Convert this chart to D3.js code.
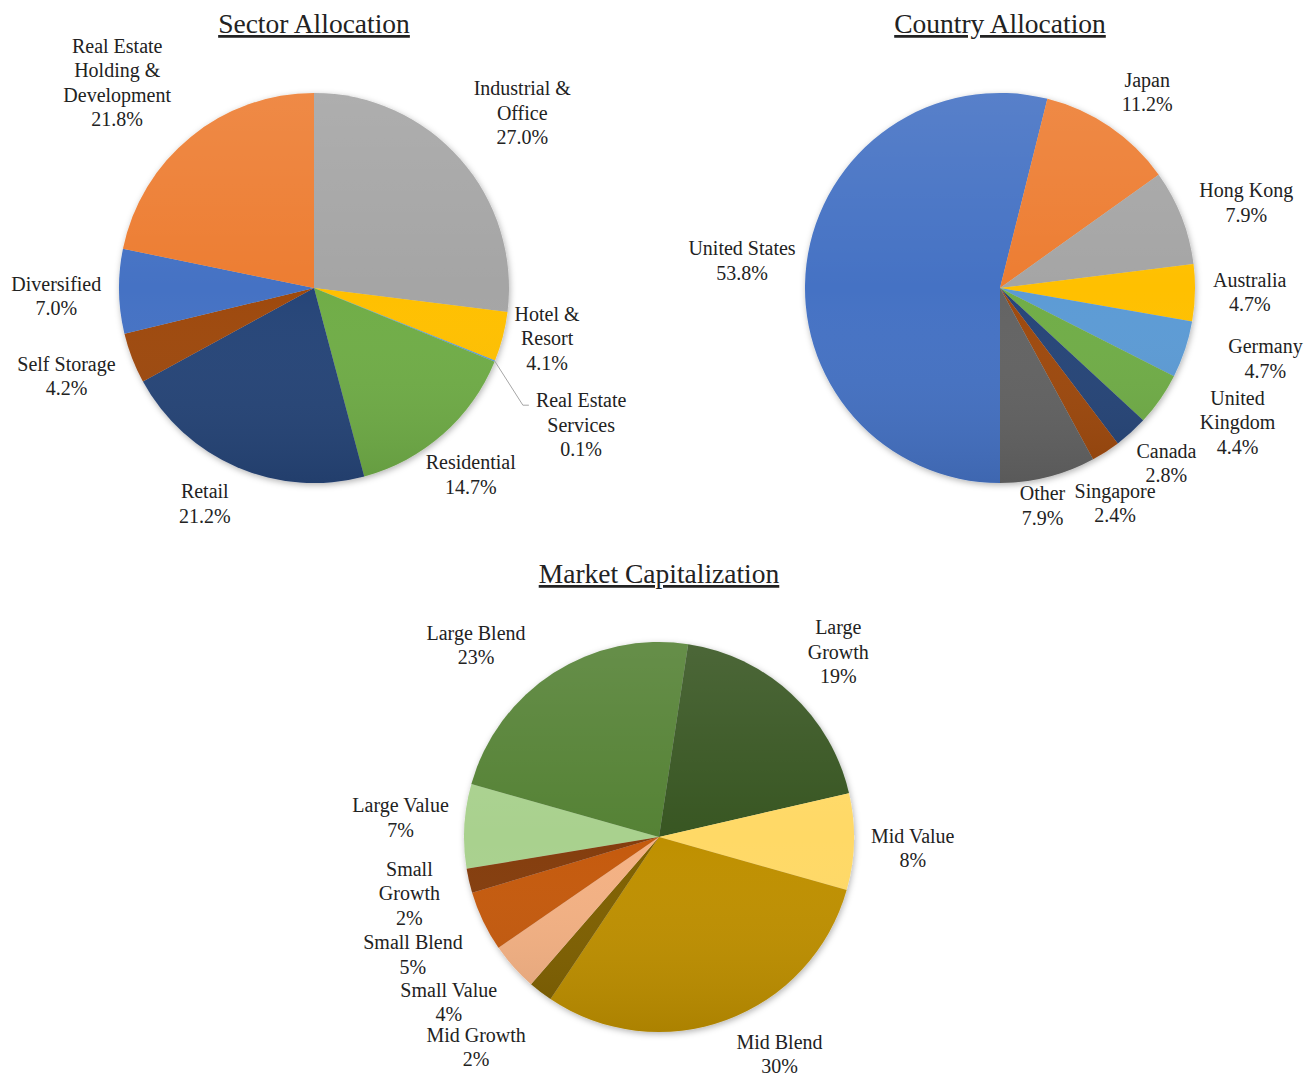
<!DOCTYPE html>
<html>
<head>
<meta charset="utf-8">
<script src="https://cdn.jsdelivr.net/npm/d3@7"></script>
<style>
  body { margin: 0; background: #fff; }
  text { font-family: "Liberation Serif", "Times New Roman", serif; fill: #222; }
</style>
</head>
<body>
<svg id="chart" width="1307" height="1076"></svg>
<script>
// ---- data ----
const sectorNames = ["Industrial &\nOffice", "Hotel &\nResort", "Real Estate\nServices", "Residential",
                     "Retail", "Self Storage", "Diversified", "Real Estate\nHolding &\nDevelopment"];
const sectorValues = [27.0, 4.1, 0.1, 14.7, 21.2, 4.2, 7.0, 21.8];

const countryNames = ["United States", "Japan", "Hong Kong", "Australia", "Germany",
                      "United\nKingdom", "Canada", "Singapore", "Other"];
const countryValues = [53.8, 11.2, 7.9, 4.7, 4.7, 4.4, 2.8, 2.4, 7.9];

const capNames = ["Large Value", "Large Blend", "Large\nGrowth", "Mid Value", "Mid Blend",
                  "Mid Growth", "Small Value", "Small Blend", "Small\nGrowth"];
const capValues = [7, 23, 19, 8, 30, 2, 4, 5, 2];

// ---- colours ----
const sectorColors  = ["#A5A5A5", "#FFC000", "#5B9BD5", "#70AD47", "#264478", "#9E480E", "#4472C4", "#ED7D31"];
const countryColors = ["#4472C4", "#ED7D31", "#A5A5A5", "#FFC000", "#5B9BD5", "#70AD47", "#264478", "#9E480E", "#636363"];
const capColors     = ["#A9D18E", "#548235", "#375623", "#FFD966", "#BF9000", "#7F6000", "#F4B183", "#C55A11", "#843C0C"];

// ---- layout ----
const R = 195;
const deg = Math.PI / 180;
const svg = d3.select("#chart");

const defs = svg.append("defs");
const shadow = defs.append("filter").attr("id", "shadow")
  .attr("x", "-10%").attr("y", "-10%").attr("width", "120%").attr("height", "120%");
shadow.append("feDropShadow").attr("dx", 1).attr("dy", 2).attr("stdDeviation", 3)
  .attr("flood-color", "#000").attr("flood-opacity", 0.3);

// soft top-to-bottom shading laid over each pie
const shade = defs.append("linearGradient").attr("id", "shade")
  .attr("x1", 0).attr("y1", 0).attr("x2", 0).attr("y2", 1);
shade.append("stop").attr("offset", "0%").attr("stop-color", "#fff").attr("stop-opacity", 0.1);
shade.append("stop").attr("offset", "50%").attr("stop-color", "#fff").attr("stop-opacity", 0.0);
shade.append("stop").attr("offset", "100%").attr("stop-color", "#000").attr("stop-opacity", 0.1);

// label nudges (dx, dy) from the default outside position of each slice
const charts = [
  {
    title: "Sector Allocation", cx: 314, cy: 288, start: 0, decimals: 1,
    names: sectorNames, values: sectorValues, colors: sectorColors,
    nudge: [[27, -15], [-1, -10], [43, 46], [-3, 5], [-14, -7], [-22, 1], [-16, 4], [-44, -18]],
    leader: [2], titleY: 33
  },
  {
    title: "Country Allocation", cx: 1000, cy: 288, start: 180 * deg, decimals: 1,
    names: countryNames, values: countryValues, colors: countryColors,
    nudge: [[-18, 2], [11, 4], [21, 2], [8, -2], [36, -6], [39, -4], [4, -4], [-16, 12], [-17, -17]],
    leader: [], titleY: 33
  },
  {
    title: "Market Capitalization", cx: 659, cy: 837, start: -99.4 * deg, decimals: 0,
    names: capNames, values: capValues, colors: capColors,
    nudge: [[-17, -6], [-52, 11], [15, -8], [12, 5], [37, -10], [-36, 18], [-30, 4], [-28, 13], [-14, 2]],
    leader: [], titleY: 583
  }
];

const LINE = 24.5;

charts.forEach(cfg => {
  // title
  svg.append("text")
    .attr("x", cfg.cx).attr("y", cfg.titleY)
    .attr("text-anchor", "middle")
    .style("font-size", "27.5px")
    .style("text-decoration", "underline")
    .text(cfg.title);

  const g = svg.append("g").attr("transform", `translate(${cfg.cx},${cfg.cy})`);
  const pie = d3.pie().sort(null).value(d => d.value)
    .startAngle(cfg.start).endAngle(cfg.start + 2 * Math.PI);
  const arcs = pie(cfg.names.map((n, i) => ({ name: n, value: cfg.values[i], color: cfg.colors[i] })));
  const arc = d3.arc().innerRadius(0).outerRadius(R);
  const edge = d3.arc().innerRadius(R).outerRadius(R);
  const labelArc = d3.arc().innerRadius(R * 1.24).outerRadius(R * 1.24);

  const slices = g.append("g").attr("filter", "url(#shadow)");
  slices.selectAll("path").data(arcs).join("path")
    .attr("d", arc)
    .attr("fill", d => d.data.color);
  g.append("circle").attr("r", R).attr("fill", "url(#shade)");

  const fmt = d3.format("." + cfg.decimals + "f");
  arcs.forEach((d, i) => {
    const [bx, by] = labelArc.centroid(d);
    const x = bx + cfg.nudge[i][0];
    const y = by + cfg.nudge[i][1];
    const lines = d.data.name.split("\n").concat(fmt(d.data.value) + "%");
    const top = y - (lines.length - 1) * LINE / 2;
    const t = g.append("text").attr("text-anchor", "middle").style("font-size", "20px");
    lines.forEach((ln, k) => {
      t.append("tspan").attr("x", x).attr("y", top + k * LINE + 7).text(ln);
    });
    if (cfg.leader.includes(i)) {
      const first = t.select("tspan").node().getComputedTextLength();
      const [sx, sy] = edge.centroid(d);
      const ex = x - first / 2 - 7;
      const ey = top + 5;
      g.insert("path", "text")
        .attr("d", `M${sx},${sy}L${ex - 6},${ey}L${ex},${ey}`)
        .attr("fill", "none").attr("stroke", "#A6A6A6").attr("stroke-width", 1);
    }
  });
});
</script>
</body>
</html>
